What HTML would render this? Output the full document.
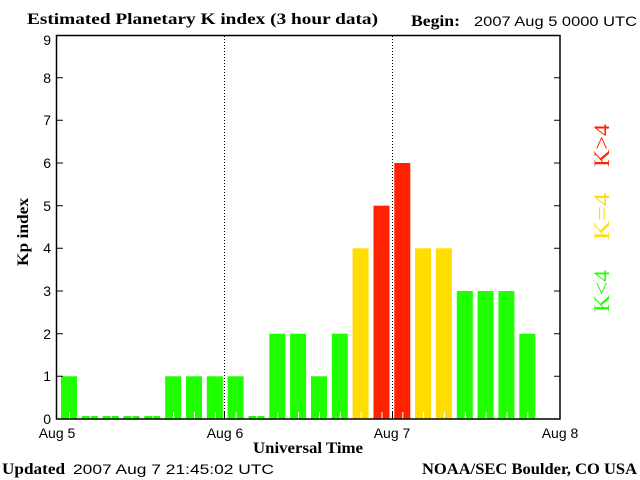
<!DOCTYPE html>
<html><head><style>
body{margin:0;background:#fff;}
svg{display:block}
.s{font-family:"Liberation Sans",sans-serif;font-size:14px;fill:#000}
.b{font-family:"Liberation Serif",serif;font-weight:bold;font-size:16px;fill:#000}
</style></head><body>
<svg width="640" height="480" xmlns="http://www.w3.org/2000/svg">
<rect width="640" height="480" fill="#fff"/>
<g fill="#1eff00">
<rect x="61" y="376.3" width="16" height="42.7"/>
<rect x="81.8" y="416" width="16" height="3"/>
<rect x="102.7" y="416" width="16" height="3"/>
<rect x="123.5" y="416" width="16" height="3"/>
<rect x="144.3" y="416" width="16" height="3"/>
<rect x="165.2" y="376.3" width="16" height="42.7"/>
<rect x="186" y="376.3" width="16" height="42.7"/>
<rect x="206.8" y="376.3" width="16" height="42.7"/>
<rect x="227.6" y="376.3" width="16" height="42.7"/>
<rect x="248.5" y="416" width="16" height="3"/>
<rect x="269.3" y="333.7" width="16" height="85.3"/>
<rect x="290.1" y="333.7" width="16" height="85.3"/>
<rect x="311" y="376.3" width="16" height="42.7"/>
<rect x="331.8" y="333.7" width="16" height="85.3"/>
<rect x="456.8" y="291" width="16" height="128"/>
<rect x="477.6" y="291" width="16" height="128"/>
<rect x="498.4" y="291" width="16" height="128"/>
<rect x="519.3" y="333.7" width="16" height="85.3"/>
</g>
<g fill="#ffdd00">
<rect x="352.6" y="248.3" width="16" height="170.7"/>
<rect x="415.1" y="248.3" width="16" height="170.7"/>
<rect x="435.9" y="248.3" width="16" height="170.7"/>
</g>
<g fill="#ff2200">
<rect x="373.5" y="205.7" width="16" height="213.3"/>
<rect x="394.3" y="163" width="16" height="256"/>
</g>
<g stroke="#fff" stroke-width="1">
<path d="M69.5 412V419M90.3 412V419M111.2 412V419M132 412V419M152.8 412V419M173.7 412V419M194.5 412V419M215.3 412V419M236.1 412V419M257 412V419M277.8 412V419M298.6 412V419M319.5 412V419M340.3 412V419M361.1 412V419M382 412V419M402.8 412V419M423.6 412V419M444.4 412V419M465.3 412V419M486.1 412V419M506.9 412V419M527.8 412V419"/>
</g>
<g stroke="#000" stroke-width="1" stroke-dasharray="1,2">
<path d="M224.5 36V419M392.5 36V419"/>
</g>
<g stroke="#000" stroke-width="1.5" fill="none">
<rect x="56.5" y="35.5" width="503.5" height="383.5"/>
</g>
<g stroke="#000" stroke-width="1">
<path d="M57 376.3H63M57 333.7H63M57 291H63M57 248.3H63M57 205.7H63M57 163H63M57 120.3H63M57 77.7H63"/>
<path d="M554 376.3H560M554 333.7H560M554 291H560M554 248.3H560M554 205.7H560M554 163H560M554 120.3H560M554 77.7H560"/>
<path d="M224.5 412V419M392.5 412V419"/>
</g>
<g class="s" text-anchor="end">
<text x="51" y="424">0</text><text x="51" y="381">1</text><text x="51" y="339">2</text>
<text x="51" y="296">3</text><text x="51" y="253">4</text><text x="51" y="211">5</text>
<text x="51" y="168">6</text><text x="51" y="125">7</text><text x="51" y="83">8</text>
<text x="51" y="45">9</text>
</g>
<g class="s" text-anchor="middle">
<text x="57" y="438">Aug 5</text><text x="225" y="438">Aug 6</text>
<text x="392" y="438">Aug 7</text><text x="560" y="438">Aug 8</text>
</g>
<text class="b" x="27" y="24" textLength="351" lengthAdjust="spacingAndGlyphs">Estimated Planetary K index (3 hour data)</text>
<text class="b" x="411" y="26" textLength="49" lengthAdjust="spacingAndGlyphs">Begin:</text>
<text class="s" x="474" y="26" textLength="163" lengthAdjust="spacingAndGlyphs">2007 Aug 5 0000 UTC</text>
<text class="b" x="253" y="453" textLength="110" lengthAdjust="spacingAndGlyphs">Universal Time</text>
<text class="b" x="2" y="474" textLength="63" lengthAdjust="spacingAndGlyphs">Updated</text>
<text class="s" x="73" y="474" textLength="201" lengthAdjust="spacingAndGlyphs">2007 Aug  7 21:45:02 UTC</text>
<text class="b" x="422" y="474" textLength="215" lengthAdjust="spacingAndGlyphs">NOAA/SEC Boulder, CO USA</text>
<text class="b" transform="translate(28,266) rotate(-90)" textLength="68" lengthAdjust="spacingAndGlyphs">Kp index</text>
<g font-family="Liberation Serif,serif" font-size="22">
<text fill="#1eff00" transform="translate(609,312) rotate(-90)" textLength="42" lengthAdjust="spacingAndGlyphs">K&lt;4</text>
<text fill="#ffdd00" transform="translate(609,240) rotate(-90)" textLength="47" lengthAdjust="spacingAndGlyphs">K=4</text>
<text fill="#ff2200" transform="translate(609,167) rotate(-90)" textLength="43" lengthAdjust="spacingAndGlyphs">K&gt;4</text>
</g>
</svg>
</body></html>
